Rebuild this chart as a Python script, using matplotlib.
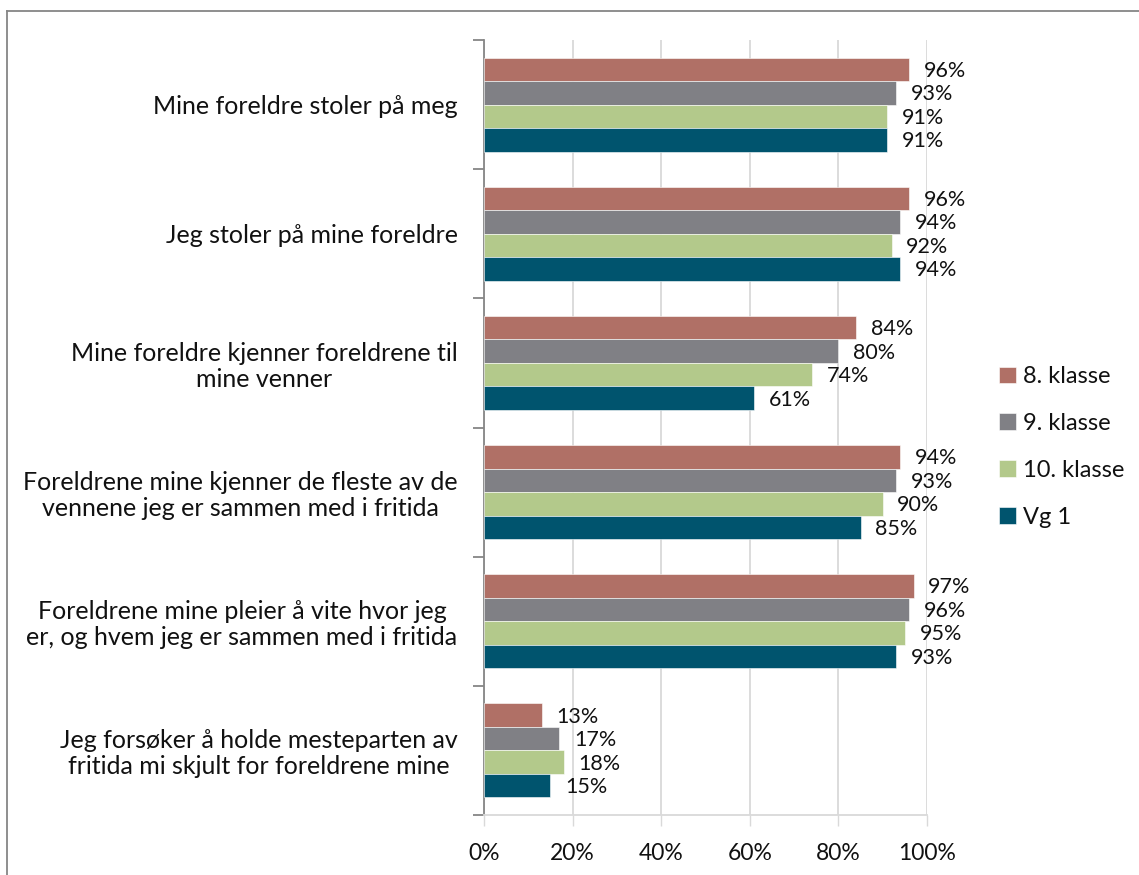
import matplotlib
matplotlib.use("Agg")
import matplotlib.pyplot as plt
from matplotlib.lines import Line2D
import numpy as np

plt.rcParams['font.family'] = ['Lato', 'DejaVu Sans']

categories = [
    "Mine foreldre stoler på meg",
    "Jeg stoler på mine foreldre",
    "Mine foreldre kjenner foreldrene til\nmine venner",
    "Foreldrene mine kjenner de fleste av de\nvennene jeg er sammen med i fritida",
    "Foreldrene mine pleier å vite hvor jeg\ner, og hvem jeg er sammen med i fritida",
    "Jeg forsøker å holde mesteparten av\nfritida mi skjult for foreldrene mine",
]
series_names = ["8. klasse", "9. klasse", "10. klasse", "Vg 1"]
klasse8 = [96, 96, 84, 94, 97, 13]
klasse9 = [93, 94, 80, 93, 96, 17]
klasse10 = [91, 92, 74, 90, 95, 18]
vg1 = [91, 94, 61, 85, 93, 15]
series_values = [klasse8, klasse9, klasse10, vg1]
colors = ["#B07066", "#808085", "#B3C98B", "#00546E"]
xticks = [0, 20, 40, 60, 80, 100]
xtick_labels = ["0%", "20%", "40%", "60%", "80%", "100%"]

W, H = 1139, 875
fig = plt.figure(figsize=(W / 100, H / 100), dpi=100)
ax = fig.add_axes([484 / W, 1 - 815 / H, (927 - 484) / W, (815 - 40) / H])

txt = '#111111'
n = len(categories)
y = np.arange(n)
bh = 0.182
offsets = [-1.5, -0.5, 0.5, 1.5]
for vals, name, col, off in zip(series_values, series_names, colors, offsets):
    ypos = y + off * bh
    ax.barh(ypos, vals, height=bh, color=col, label=name, zorder=3,
            edgecolor='white', linewidth=0.4)
    for yy, v in zip(ypos, vals):
        ax.annotate(f"{v}%", (v, yy), xytext=(10.5, -1), textcoords='offset points',
                    ha='left', va='center', fontsize=15.5, color=txt, zorder=4)

ax.set_xlim(0, 100)
ax.set_ylim(n - 0.5, -0.5)

ax.set_xticks(xticks)
ax.set_xticklabels(xtick_labels, fontsize=16.5, color=txt)
ax.tick_params(axis='x', length=8, color='#d9d9d9', width=1, pad=12)
ax.grid(axis='x', color='#d9d9d9', linewidth=1.3, zorder=0)

ax.set_yticks(np.arange(n + 1) - 0.5)
ax.set_yticklabels([])
ax.set_yticks(y, minor=True)
ax.set_yticklabels(categories, minor=True, fontsize=18, color=txt,
                   linespacing=1.15)
for t in ax.get_yticklabels(minor=True):
    t.set_multialignment('center')
ax.tick_params(axis='y', which='major', length=8, color='#868686', width=1.3)
ax.tick_params(axis='y', which='minor', length=0, pad=19)

for s in ['top', 'right']:
    ax.spines[s].set_visible(False)
ax.spines['left'].set_color('#868686')
ax.spines['left'].set_linewidth(1.3)
ax.spines['bottom'].set_color('#d9d9d9')
ax.spines['bottom'].set_linewidth(1.3)

leg = ax.legend(loc='center left', bbox_to_anchor=(978 / W, 1 - 447 / H),
                bbox_transform=fig.transFigure, frameon=False, fontsize=17,
                handlelength=0.7, handleheight=0.7, handletextpad=0.3,
                labelspacing=1.1)
for t in leg.get_texts():
    t.set_color(txt)

# outer frame
fx0, fy0 = 7 / W, 1 - 11 / H
fig.add_artist(Line2D([fx0, fx0], [fy0, 0], transform=fig.transFigure,
                      color='#868686', linewidth=1.3))
fig.add_artist(Line2D([fx0, 1], [fy0, fy0], transform=fig.transFigure,
                      color='#868686', linewidth=1.3))

fig.savefig("out.png", dpi=100, facecolor='white')
